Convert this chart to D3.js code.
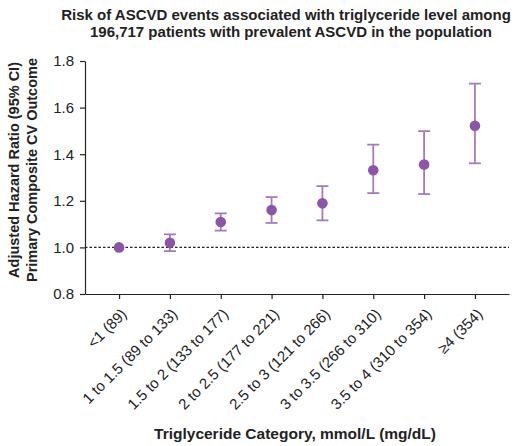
<!DOCTYPE html>
<html>
<head>
<meta charset="utf-8">
<script src="https://cdn.jsdelivr.net/npm/d3@7"></script>
<style>
  body { margin: 0; background: #fff; }
  svg { font-family: "Liberation Sans", Arial, sans-serif; }
</style>
</head>
<body>
<svg id="chart" width="527" height="446"></svg>
<script>
var categories = ["<1 (89)", "1 to 1.5 (89 to 133)", "1.5 to 2 (133 to 177)", "2 to 2.5 (177 to 221)",
  "2.5 to 3 (121 to 266)", "3 to 3.5 (266 to 310)", "3.5 to 4 (310 to 354)", "\u22654 (354)"];
var hr    = [1.00, 1.02, 1.109, 1.16, 1.189, 1.331, 1.356, 1.522];
var lower = [1.00, 0.984, 1.072, 1.105, 1.116, 1.233, 1.229, 1.361];
var upper = [1.00, 1.056, 1.146, 1.216, 1.263, 1.441, 1.499, 1.703];
var yTicks = [0.8, 1.0, 1.2, 1.4, 1.6, 1.8];

var margin = {top: 61, right: 18, bottom: 152, left: 85}
  , width = 527 - margin.left - margin.right
  , height = 446 - margin.top - margin.bottom;

var data = categories.map(function(c, i){
    return {cat: c, hr: hr[i], lo: lower[i], hi: upper[i]};
});

var svg = d3.select("#chart");
var g = svg.append("g")
    .attr("transform", "translate(" + margin.left + "," + margin.top + ")");

var xScale = d3.scalePoint().domain(categories).range([0, width]).padding(0.67);
var yScale = d3.scaleLinear().domain([0.8, 1.8]).range([height, 0]);

// title
svg.append("text")
    .attr("x", 286).attr("y", 19.5)
    .attr("text-anchor", "middle")
    .style("font-size", "15px").style("font-weight", "bold").style("fill", "#222")
    .text("Risk of ASCVD events associated with triglyceride level among");
svg.append("text")
    .attr("x", 291).attr("y", 37)
    .attr("text-anchor", "middle")
    .style("font-size", "15px").style("font-weight", "bold").style("fill", "#222")
    .text("196,717 patients with prevalent ASCVD in the population");

// reference line at 1.0
g.append("line")
    .attr("x1", 0).attr("x2", width)
    .attr("y1", yScale(1)).attr("y2", yScale(1))
    .attr("stroke", "#222").attr("stroke-width", 1.2)
    .attr("stroke-dasharray", "2.5,2");

// axes
var yAxis = g.append("g")
    .call(d3.axisLeft(yScale).tickValues(yTicks).tickFormat(d3.format(".1f")).tickSize(5).tickSizeOuter(0));
yAxis.selectAll("text").style("font-size", "15px").style("fill", "#222").attr("x", -11);
yAxis.selectAll("line, path").attr("stroke", "#222").attr("stroke-width", 1.2);

var xAxis = g.append("g")
    .attr("transform", "translate(0," + height + ")")
    .call(d3.axisBottom(xScale).tickSize(5).tickSizeOuter(0));
xAxis.select("path").attr("stroke", "#222").attr("stroke-width", 1.2);
xAxis.selectAll("line").attr("stroke", "#222").attr("stroke-width", 1.2);
xAxis.selectAll("text")
    .style("font-size", "15px").style("fill", "#222")
    .attr("text-anchor", "end")
    .attr("x", 0).attr("y", 0).attr("dy", 0)
    .attr("transform", "translate(8,21) rotate(-45)");

// error bars
var bars = g.selectAll(".err")
    .data(data.filter(function(d){ return d.hi > d.lo; }))
    .enter().append("g")
    .attr("class", "err")
    .attr("stroke", "#a57bbd")
    .attr("stroke-width", 1.8);
bars.append("line")
    .attr("x1", function(d){ return xScale(d.cat); })
    .attr("x2", function(d){ return xScale(d.cat); })
    .attr("y1", function(d){ return yScale(d.lo); })
    .attr("y2", function(d){ return yScale(d.hi); });
bars.append("line")
    .attr("x1", function(d){ return xScale(d.cat) - 6; })
    .attr("x2", function(d){ return xScale(d.cat) + 6; })
    .attr("y1", function(d){ return yScale(d.hi); })
    .attr("y2", function(d){ return yScale(d.hi); });
bars.append("line")
    .attr("x1", function(d){ return xScale(d.cat) - 6; })
    .attr("x2", function(d){ return xScale(d.cat) + 6; })
    .attr("y1", function(d){ return yScale(d.lo); })
    .attr("y2", function(d){ return yScale(d.lo); });

// points
g.selectAll("circle")
    .data(data)
    .enter().append("circle")
    .attr("cx", function(d){ return xScale(d.cat); })
    .attr("cy", function(d){ return yScale(d.hr); })
    .attr("r", 5.3)
    .attr("fill", "#8c55a8");

// axis titles
svg.append("text")
    .attr("x", 295).attr("y", 439)
    .attr("text-anchor", "middle")
    .style("font-size", "15.5px").style("font-weight", "bold").style("fill", "#222")
    .text("Triglyceride Category, mmol/L (mg/dL)");
svg.append("text")
    .attr("transform", "translate(19,170) rotate(-90)")
    .attr("text-anchor", "middle")
    .style("font-size", "14.5px").style("font-weight", "bold").style("fill", "#222")
    .text("Adjusted Hazard Ratio (95% CI)");
svg.append("text")
    .attr("transform", "translate(36.5,170) rotate(-90)")
    .attr("text-anchor", "middle")
    .style("font-size", "14.5px").style("font-weight", "bold").style("fill", "#222")
    .text("Primary Composite CV Outcome");
</script>
</body>
</html>
